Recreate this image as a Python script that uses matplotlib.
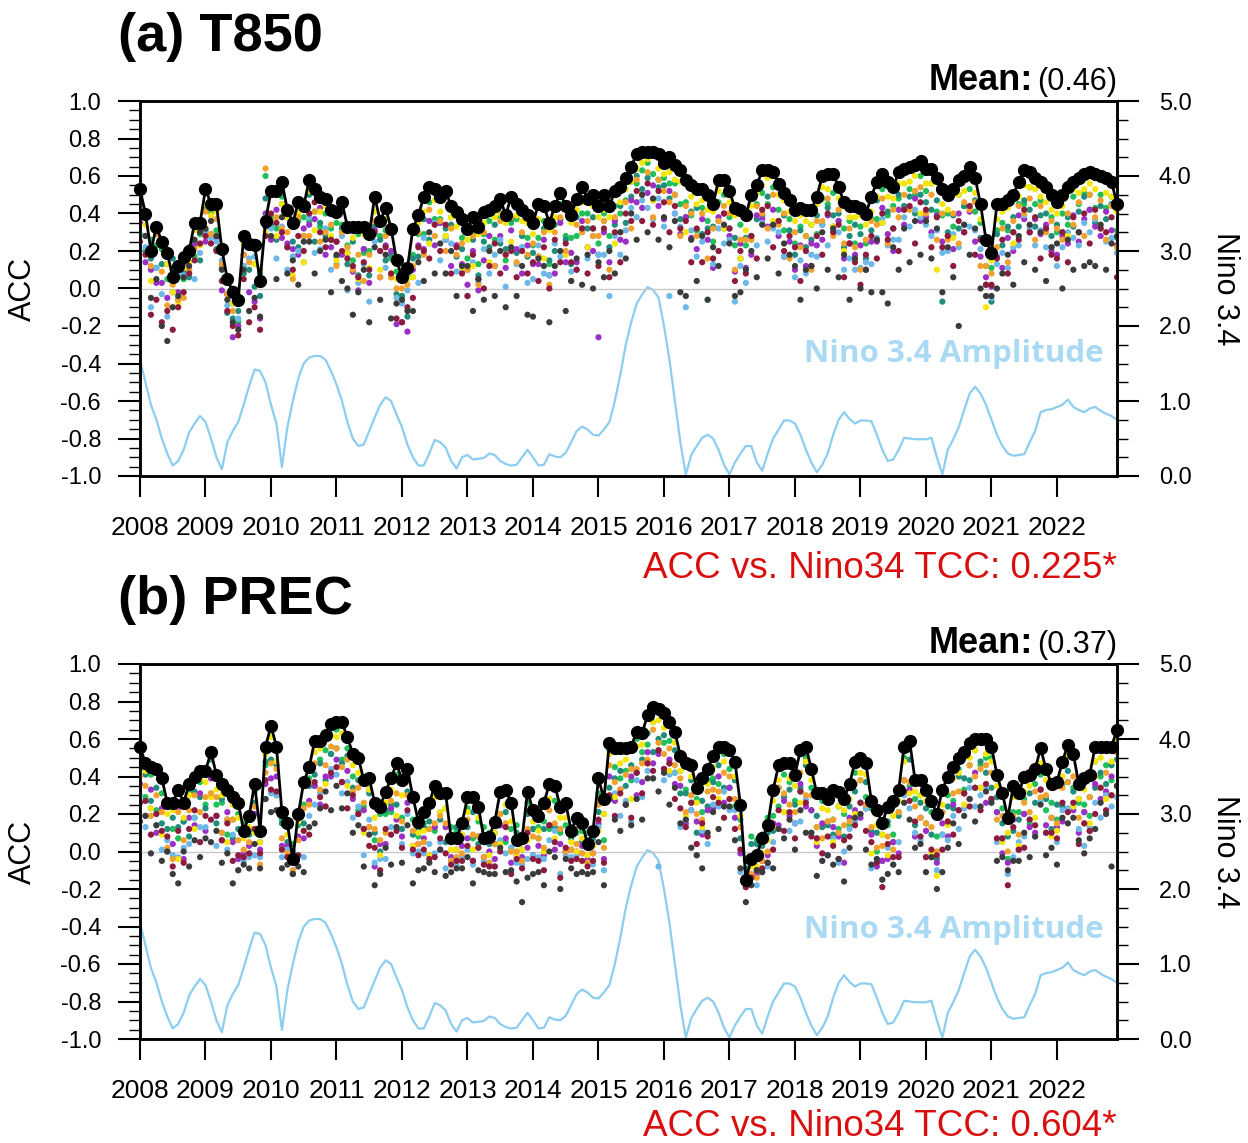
import numpy as np
import matplotlib
matplotlib.use("Agg")
import matplotlib.pyplot as plt
from matplotlib.ticker import MultipleLocator, FormatStrFormatter

plt.rcParams['font.family'] = ['Liberation Sans', 'DejaVu Sans']
plt.rcParams['axes.unicode_minus'] = False

years = list(range(2008, 2023))
# monthly axis, Jan 2008 .. Dec 2022
months = 2008 + np.arange(180) / 12.0

# ---- Nino 3.4 amplitude (right axis), one row per year ----
nino_amp = [
    1.55, 1.25, 0.95, 0.75, 0.50, 0.30, 0.14, 0.20, 0.35, 0.58, 0.70, 0.80,
    0.72, 0.50, 0.25, 0.09, 0.45, 0.60, 0.72, 0.95, 1.20, 1.42, 1.40, 1.25,
    0.95, 0.70, 0.12, 0.65, 1.00, 1.30, 1.50, 1.58, 1.60, 1.60, 1.55, 1.40,
    1.22, 1.00, 0.72, 0.50, 0.40, 0.42, 0.60, 0.78, 0.95, 1.05, 1.00, 0.82,
    0.65, 0.42, 0.25, 0.14, 0.14, 0.30, 0.48, 0.45, 0.38, 0.20, 0.10, 0.25,
    0.28, 0.22, 0.23, 0.24, 0.30, 0.28, 0.20, 0.16, 0.14, 0.15, 0.25, 0.35,
    0.25, 0.14, 0.15, 0.29, 0.26, 0.25, 0.31, 0.45, 0.60, 0.66, 0.62, 0.55,
    0.54, 0.62, 0.72, 1.00, 1.35, 1.75, 2.05, 2.30, 2.42, 2.52, 2.48, 2.38,
    2.00, 1.55, 1.00, 0.45, 0.02, 0.28, 0.40, 0.51, 0.55, 0.50, 0.35, 0.15,
    0.02, 0.18, 0.30, 0.40, 0.40, 0.18, 0.07, 0.30, 0.50, 0.62, 0.74, 0.74,
    0.70, 0.55, 0.35, 0.18, 0.05, 0.15, 0.30, 0.55, 0.75, 0.85, 0.76, 0.70,
    0.74, 0.74, 0.73, 0.55, 0.35, 0.20, 0.22, 0.35, 0.51, 0.50, 0.49, 0.49,
    0.49, 0.51, 0.25, 0.02, 0.35, 0.49, 0.65, 0.88, 1.10, 1.19, 1.10, 0.95,
    0.75, 0.55, 0.40, 0.30, 0.27, 0.28, 0.29, 0.45, 0.60, 0.85, 0.88, 0.89,
    0.92, 0.95, 1.02, 0.92, 0.88, 0.85, 0.90, 0.92, 0.87, 0.83, 0.80, 0.75,
]

# ---- (a) T850 ACC x100 : multi-model mean (black) ----
t850_mme = [
    53, 40, 20, 33, 25, 19, 6, 12, 17, 20, 35, 35,
    53, 45, 45, 21, 5, -2, -6, 28, 24, 23, 4, 36,
    52, 52, 57, 42, 35, 46, 44, 58, 53, 49, 48, 42,
    41, 46, 33, 33, 33, 33, 29, 49, 36, 43, 32, 15,
    6, 11, 32, 39, 49, 54, 53, 49, 52, 44, 41, 37,
    32, 38, 33, 41, 42, 44, 48, 39, 49, 45, 42, 39,
    35, 45, 44, 35, 44, 51, 44, 39, 48, 54, 48, 50,
    44, 50, 44, 52, 54, 59, 65, 72, 73, 73, 73, 72,
    67, 70, 66, 63, 58, 55, 53, 53, 50, 45, 58, 58,
    52, 43, 42, 39, 50, 55, 63, 63, 62, 56, 51, 47,
    42, 43, 42, 42, 49, 60, 61, 61, 54, 46, 44, 44,
    43, 40, 49, 57, 61, 57, 54, 62, 64, 65, 66, 68,
    64, 64, 59, 53, 50, 53, 58, 60, 65, 59, 45, 26,
    19, 45, 45, 47, 50, 57, 63, 62, 59, 57, 54, 50,
    46, 50, 54, 57, 59, 61, 62, 61, 60, 59, 57, 45,
]

# individual models: how far each dot sits below the black mean (ACC x100)
t850_gap_green = [
    8, 12, -6, 10, 4, 14, -4, 6, 12, -2, 18, 6,
    10, 4, 14, 2, 8, 6, 12, 16, -2, 10, -4, -24,
    14, 20, 8, 4, 18, 10, 6, 22, 12, 16, 8, 10,
    6, 12, 10, 18, 4, 14, 9, 20, 8, 12, 16, 6,
    10, 4, 14, 10, 20, 8, 16, 12, 24, 6, 18, 10,
    16, 8, 20, 12, 6, 18, 10, 24, 14, 8, 20, 12,
    12, 18, 8, 22, 10, 6, 16, 12, 20, 14, 8, 18,
    20, 10, 16, 8, 14, 12, 8, 16, 10, 6, 12, 14,
    8, 14, 10, 18, 12, 16, 22, 10, 14, 20, 12, 8,
    14, 20, 8, 16, 22, 10, 12, 18, 8, 14, 20, 10,
    18, 10, 14, 8, 20, 12, 16, 10, 18, 14, 8, 20,
    10, 16, 12, 20, 8, 18, 10, 14, 22, 12, 16, 8,
    12, 8, 18, 14, 10, 20, 8, 16, 12, 18, 10, 14,
    8, 14, 10, 16, 20, 12, 18, 8, 14, 10, 22, 12,
    16, 10, 20, 8, 14, 10, 12, 18, 10, 16, 8, 14,
]
t850_gap_teal = [
    14, 20, 4, 22, 12, 6, -10, 18, 8, 14, 10, 20,
    22, 16, 24, 10, 18, 14, 6, 20, 14, 22, 8, -12,
    18, 26, 12, 20, 10, 24, 16, 8, 28, 14, 20, 16,
    24, 14, 20, 8, 26, 12, 22, 16, 10, 28, 14, 18,
    10, 26, 16, 22, 12, 28, 18, 14, 20, 10, 24, 16,
    22, 12, 26, 16, 20, 10, 24, 18, 12, 26, 14, 22,
    16, 28, 12, 20, 24, 14, 18, 26, 10, 22, 16, 12,
    26, 14, 22, 18, 10, 24, 16, 12, 20, 14, 26, 18,
    12, 22, 16, 26, 20, 14, 10, 24, 18, 12, 22, 26,
    20, 16, 26, 12, 22, 18, 24, 14, 28, 20, 12, 16,
    24, 12, 20, 16, 10, 26, 18, 22, 14, 24, 16, 10,
    14, 24, 18, 10, 26, 16, 22, 12, 20, 16, 26, 18,
    18, 22, 12, 60, 20, 14, 26, 16, 22, 12, 18, 24,
    26, 16, 22, 14, 12, 24, 16, 20, 26, 18, 14, 22,
    12, 20, 16, 24, 18, 12, 20, 26, 16, 22, 12, 18,
]
t850_gap_purple = [
    18, 26, 10, 30, 22, 24, 8, 14, 4, 2, 12, 4,
    28, 6, 18, 22, 8, 24, 14, 10, 26, 30, 20, -4,
    26, 10, 30, 18, 14, 28, 12, 24, 16, 6, 30, 20,
    16, 28, 14, 24, 34, 12, 26, 18, 30, 20, 12, 34,
    24, 34, 22, 16, 28, 18, 30, 14, 26, 32, 18, 24,
    30, 18, 34, 26, 14, 32, 20, 28, 18, 24, 34, 16,
    22, 32, 18, 28, 36, 16, 30, 20, 34, 18, 26, 30,
    70, 20, 30, 16, 28, 34, 18, 26, 30, 22, 18, 28,
    30, 18, 26, 34, 20, 28, 32, 16, 24, 34, 20, 18,
    24, 34, 18, 28, 32, 16, 26, 30, 20, 28, 34, 22,
    32, 20, 30, 18, 26, 34, 22, 28, 18, 30, 20, 26,
    20, 30, 24, 32, 18, 28, 34, 20, 30, 22, 18, 32,
    26, 34, 20, 28, 22, 32, 18, 30, 24, 34, 28, 20,
    18, 28, 34, 20, 30, 18, 26, 32, 22, 28, 20, 30,
    28, 22, 30, 18, 34, 24, 20, 28, 32, 18, 26, 22,
]
t850_gap_skyblue = [
    24, 18, 30, 22, 28, 34, 8, 4, 10, 12, 30, 16,
    24, 18, 20, 6, 14, -2, 10, 16, 8, 6, -2, -2,
    20, 36, 24, 32, 18, 26, 30, 20, 34, 28, 16, 32,
    28, 18, 34, 22, 30, 20, 36, 24, 16, 32, 26, 20,
    14, 12, 26, 36, 22, 30, 18, 34, 26, 20, 32, 28,
    36, 24, 30, 20, 34, 26, 22, 38, 28, 32, 20, 36,
    30, 22, 36, 28, 20, 34, 26, 30, 38, 24, 32, 22,
    26, 32, 48, 24, 36, 28, 22, 34, 26, 30, 36, 24,
    34, 74, 26, 30, 68, 24, 36, 28, 56, 32, 26, 34,
    26, 50, 30, 36, 24, 32, 28, 38, 30, 26, 34, 30,
    36, 28, 34, 24, 32, 26, 38, 30, 24, 36, 28, 34,
    32, 26, 36, 30, 24, 34, 28, 36, 26, 32, 24, 30,
    30, 36, 28, 34, 30, 24, 36, 26, 32, 28, 24, 30,
    24, 32, 26, 36, 28, 34, 24, 30, 36, 26, 32, 28,
    34, 28, 24, 30, 36, 26, 32, 24, 28, 34, 30, 26,
]
t850_gap_yellow = [
    4, 6, 16, 4, 2, 6, 8, 20, 6, 6, 4, 12,
    8, 6, 4, 2, -2, 6, -2, 4, 2, 10, 2, 6,
    2, 24, 12, 4, 28, 6, 30, 6, 22, 8, 4, 14,
    26, 4, 14, 6, 28, 4, 18, 8, 26, 6, 24, 10,
    2, 6, 26, 4, 8, 30, 6, 8, 24, 6, 8, 26,
    6, 26, 4, 6, 28, 6, 8, 4, 24, 6, 6, 4,
    6, 8, 28, 4, 6, 8, 26, 4, 6, 8, 26, 6,
    6, 8, 6, 28, 8, 6, 8, 8, 6, 4, 26, 8,
    6, 8, 8, 6, 28, 6, 8, 6, 8, 4, 6, 26,
    6, 4, 26, 8, 6, 4, 8, 4, 26, 6, 4, 6,
    6, 4, 6, 8, 4, 6, 8, 28, 6, 26, 6, 6,
    4, 6, 8, 8, 26, 8, 6, 6, 8, 8, 6, 28,
    8, 8, 49, 8, 8, 26, 8, 8, 6, 8, 8, 36,
    4, 8, 4, 4, 26, 8, 8, 8, 6, 8, 8, 8,
    6, 6, 26, 4, 8, 8, 6, 8, 26, 8, 8, 4,
]
t850_gap_orange = [
    10, 2, 8, 4, 16, 28, 4, 18, 22, 10, 14, 4,
    12, 16, 8, 8, 8, 10, -1, 10, 10, -2, -6, -28,
    16, 14, 25, 12, 30, 8, 16, 30, 12, 24, 18, 8,
    29, 16, 11, 23, 15, 29, 11, 13, 30, 15, 26, 15,
    6, 9, 20, 9, 31, 12, 25, 13, 32, 12, 23, 13,
    22, 10, 31, 11, 22, 32, 12, 21, 11, 31, 12, 21,
    11, 28, 14, 33, 14, 13, 24, 35, 14, 24, 12, 22,
    16, 14, 34, 14, 24, 13, 33, 14, 23, 11, 35, 14,
    15, 24, 16, 35, 14, 15, 25, 13, 34, 13, 22, 14,
    12, 33, 16, 13, 24, 11, 23, 31, 12, 22, 11, 31,
    12, 21, 14, 32, 13, 24, 13, 33, 12, 22, 12, 22,
    33, 14, 13, 23, 13, 33, 12, 24, 14, 23, 14, 14,
    24, 14, 33, 13, 24, 13, 34, 14, 23, 13, 33, 14,
    11, 23, 13, 33, 14, 13, 23, 14, 33, 13, 24, 14,
    14, 24, 14, 23, 13, 33, 12, 23, 13, 33, 13, 23,
]
t850_gap_darkred = [
    28, 22, 34, 39, 43, 31, 28, 22, 19, 12, 20, 11,
    25, 21, 25, 17, 17, 18, 19, 23, 42, 33, 26, 8,
    12, 17, 27, 20, 25, 18, 24, 18, 7, 19, 26, 16,
    16, 26, 17, 21, 27, 19, 19, 19, 16, 21, 24, 31,
    24, 21, 37, 17, 29, 38, 19, 29, 18, 36, 19, 29,
    36, 20, 28, 41, 30, 20, 40, 21, 29, 39, 22, 31,
    21, 41, 22, 35, 18, 37, 20, 25, 38, 22, 40, 18,
    32, 18, 38, 22, 40, 19, 29, 20, 37, 17, 39, 20,
    21, 40, 22, 31, 22, 41, 21, 39, 20, 29, 38, 18,
    20, 39, 22, 31, 22, 39, 21, 19, 40, 20, 31, 19,
    20, 39, 22, 30, 21, 42, 21, 31, 20, 40, 20, 30,
    41, 22, 21, 41, 21, 31, 22, 42, 22, 21, 42, 22,
    22, 42, 21, 31, 22, 41, 22, 30, 21, 41, 19, 24,
    17, 29, 19, 39, 20, 31, 21, 32, 21, 41, 22, 32,
    30, 20, 40, 19, 29, 21, 38, 19, 28, 29, 19, 39,
]
t850_gap_gray = [
    15, 12, 25, 28, 45, 47, 16, 16, 11, 8, 9, 5,
    21, 9, 17, 11, 11, 16, 16, 18, 36, 28, 19, 3,
    24, 47, 19, 34, 20, 44, 19, 33, 45, 29, 22, 44,
    23, 42, 33, 47, 35, 23, 47, 27, 42, 25, 48, 23,
    12, 23, 44, 25, 45, 24, 45, 25, 44, 24, 45, 25,
    20, 50, 28, 47, 22, 48, 28, 49, 27, 49, 30, 53,
    50, 29, 32, 53, 32, 31, 56, 35, 32, 52, 30, 50,
    30, 44, 24, 44, 24, 43, 25, 46, 23, 43, 25, 46,
    29, 48, 30, 65, 62, 29, 49, 25, 56, 23, 46, 24,
    28, 47, 44, 29, 30, 49, 29, 47, 28, 48, 27, 29,
    30, 49, 32, 30, 49, 30, 51, 29, 48, 28, 50, 28,
    43, 30, 51, 31, 63, 65, 32, 52, 32, 51, 30, 50,
    28, 48, 27, 55, 28, 47, 78, 26, 47, 27, 45, 30,
    23, 45, 37, 29, 48, 29, 49, 28, 49, 27, 50, 28,
    22, 50, 28, 47, 29, 49, 48, 49, 26, 49, 33, 17,
]

# ---- (b) PREC ACC x100 ----
prec_mme = [
    56, 47, 45, 44, 39, 26, 26, 33, 26, 36, 40, 43,
    43, 53, 41, 36, 33, 29, 26, 11, 19, 36, 11, 56,
    67, 56, 21, 15, -4, 20, 37, 45, 59, 59, 62, 68,
    69, 69, 61, 52, 50, 38, 39, 26, 24, 32, 39, 47,
    38, 44, 29, 16, 21, 26, 35, 31, 31, 7, 7, 15,
    29, 29, 24, 7, 8, 16, 32, 33, 26, 6, 7, 32,
    22, 19, 26, 36, 35, 24, 26, 11, 18, 15, 4, 11,
    39, 28, 58, 55, 55, 55, 56, 64, 63, 73, 77, 76,
    74, 69, 64, 51, 47, 46, 34, 39, 44, 51, 56, 56,
    54, 48, 25, -15, -4, -2, 7, 14, 33, 46, 47, 47,
    41, 54, 56, 44, 31, 31, 28, 33, 32, 28, 36, 48,
    50, 47, 27, 22, 15, 24, 27, 33, 56, 59, 38, 38,
    33, 27, 20, 33, 40, 45, 50, 53, 58, 60, 60, 60,
    56, 41, 31, 18, 35, 31, 40, 41, 44, 55, 44, 36,
    37, 48, 57, 52, 36, 39, 41, 56, 56, 56, 56, 65,
]
prec_gap_green = [
    6, 18, 4, 22, 8, 2, 14, 26, 10, 4, 22, 6,
    18, 4, 16, 10, 24, 12, 6, -4, 8, 4, 2, 10,
    12, 26, 4, -2, -8, 6, 12, 6, 24, 10, 8, 16,
    4, 20, 6, 12, 28, 14, 6, 20, 4, 12, 18, 6,
    20, 4, 12, 8, 6, 14, 24, 10, 8, -6, -4, 6,
    6, 22, 8, -6, -2, 6, 12, 28, 14, -8, -2, 6,
    10, 6, 10, 24, 8, 14, 12, -2, 8, 4, -6, 2,
    8, 22, 4, 10, 16, 12, 18, 4, 10, 16, 8, 22,
    16, 10, 22, 8, 14, 20, 6, 18, 6, 12, 20, 4,
    10, 24, 8, -10, -12, -8, -2, -4, 14, 22, 6, 10,
    14, 22, 6, 10, 18, 4, 12, 16, 20, 8, 22, 6,
    12, 18, 4, 22, 6, 10, 18, 12, 6, 24, 10, 8,
    18, 6, 12, 24, 10, 18, 6, 20, 12, 6, 14, 10,
    6, 20, 8, 22, 14, 10, 12, 26, 8, 14, 22, 10,
    20, 12, 6, 18, 10, 14, 22, 8, 16, 10, 18, 12,
]
prec_gap_teal = [
    12, 6, 18, 10, 24, 14, 8, 20, 10, 28, 8, 14,
    20, 12, 26, 8, 16, 22, 14, 2, 10, 10, 6, 8,
    18, 10, 6, 10, -4, 4, 22, 10, 18, 12, 24, 16,
    14, 22, 10, 18, 12, 26, 8, 16, 24, 10, 14, 22,
    26, 12, 20, 4, 8, 10, 22, 14, 26, 2, -6, 8,
    16, 8, 20, 2, 4, 12, 18, 12, 24, -4, 6, 12,
    10, 12, 14, 8, 22, 12, 26, 4, 2, 10, -2, 4,
    18, 8, 24, 16, 12, 20, 10, 22, 14, 10, 24, 16,
    12, 22, 10, 20, 16, 8, 24, 12, 20, 14, 10, 22,
    20, 10, 18, -6, -8, -6, 4, 4, 22, 12, 18, 14,
    16, 20, 10, 22, 12, 18, 14, 24, 8, 20, 12, 16,
    24, 10, 16, 12, 20, 8, 22, 14, 18, 10, 24, 12,
    10, 18, 24, 12, 16, 22, 10, 14, 20, 26, 12, 18,
    22, 12, 16, 10, 24, 14, 20, 10, 18, 12, 16, 24,
    12, 24, 14, 20, 8, 18, 12, 22, 14, 20, 10, 16,
]
prec_gap_purple = [
    20, 28, 12, 34, 16, 26, 22, 10, 30, 18, 26, 12,
    32, 14, 22, 30, 12, 24, 30, 12, 16, 16, 10, 20,
    28, 16, 18, 12, 2, 12, 30, 18, 24, 34, 22, 28,
    20, 32, 18, 24, 30, 16, 26, 34, 20, 28, 16, 30,
    30, 18, 26, 12, 14, 28, 22, 30, 18, 10, 6, 12,
    22, 34, 16, 10, 8, 20, 18, 26, 32, 8, 10, 30,
    24, 16, 28, 22, 34, 20, 26, 10, 18, 12, 8, 12,
    24, 32, 18, 28, 22, 30, 16, 34, 26, 20, 30, 24,
    30, 20, 28, 16, 32, 24, 18, 30, 22, 28, 16, 30,
    20, 30, 26, -2, 2, 10, 12, 16, 18, 32, 20, 28,
    26, 18, 32, 22, 28, 16, 30, 20, 24, 34, 18, 26,
    32, 24, 18, 30, 20, 28, 22, 34, 18, 26, 30, 20,
    22, 30, 26, 18, 32, 20, 28, 22, 30, 18, 26, 34,
    28, 20, 32, 24, 18, 30, 20, 28, 34, 22, 30, 18,
    24, 32, 20, 30, 26, 18, 30, 20, 28, 24, 16, 30,
]
prec_gap_skyblue = [
    26, 34, 22, 30, 38, 20, 28, 36, 24, 32, 22, 30,
    30, 22, 38, 26, 32, 20, 36, 16, 22, 38, 14, 28,
    36, 26, 24, 14, 6, 22, 40, 26, 34, 28, 38, 24,
    28, 38, 24, 34, 26, 40, 22, 32, 28, 36, 26, 34,
    34, 24, 30, 16, 22, 22, 36, 26, 40, 12, 14, 18,
    28, 36, 22, 12, 14, 24, 26, 34, 24, 12, 14, 36,
    24, 22, 30, 30, 24, 36, 28, 14, 20, 16, 10, 18,
    26, 38, 30, 24, 36, 28, 40, 26, 34, 30, 38, 84,
    36, 28, 22, 38, 30, 24, 36, 28, 40, 26, 32, 24,
    32, 26, 36, 4, 10, 16, 18, 22, 28, 34, 26, 36,
    26, 38, 28, 34, 24, 36, 30, 26, 38, 28, 24, 32,
    30, 24, 36, 26, 30, 22, 34, 28, 26, 36, 28, 32,
    36, 28, 30, 24, 34, 26, 38, 30, 24, 36, 30, 26,
    28, 36, 24, 30, 38, 26, 32, 24, 36, 28, 34, 26,
    32, 26, 34, 28, 24, 36, 28, 30, 38, 26, 32, 36,
]
prec_gap_yellow = [
    8, 4, 22, 2, 30, 6, 4, 37, 8, 6, 28, 4,
    6, 24, 8, 6, 28, 4, 8, 4, 6, 26, 6, 4,
    6, 8, 20, 6, 2, 4, 26, 8, 6, 4, 26, 6,
    8, 6, 26, 6, 8, 28, 6, 8, 26, 6, 6, 28,
    8, 6, 26, 6, 10, 28, 6, 10, 8, 6, 6, 6,
    8, 28, 6, -2, 10, 6, 28, 8, 10, 8, 6, 26,
    6, 8, 26, 8, 28, 6, 8, 6, 18, 8, 6, 8,
    28, 8, 6, 26, 8, 6, 28, 8, 6, 26, 8, 6,
    8, 26, 6, 8, 28, 6, 8, 26, 8, 6, 28, 8,
    26, 8, 6, -2, 4, 6, 8, 8, 6, 8, 26, 8,
    6, 28, 8, 6, 26, 8, 6, 28, 8, 6, 8, 28,
    8, 6, 28, 8, 6, 26, 8, 6, 8, 28, 6, 8,
    6, 28, 33, 8, 26, 6, 8, 28, 8, 6, 26, 8,
    8, 6, 26, 8, 6, 28, 8, 6, 26, 8, 6, 28,
    26, 8, 6, 28, 8, 6, 26, 8, 6, 28, 8, 6,
]
prec_gap_orange = [
    16, 12, 26, 14, 18, 24, 30, 12, 20, 14, 10, 22,
    14, 22, 12, 26, 16, 12, 20, 10, 14, 12, 18, 14,
    20, 12, 14, 16, 6, 14, 14, 20, 12, 26, 16, 12,
    14, 24, 12, 20, 16, 12, 26, 14, 18, 22, 12, 16,
    22, 14, 18, 12, 16, 14, 20, 12, 16, 12, 10, 16,
    12, 20, 16, 10, 14, 12, 12, 18, 26, 6, 12, 20,
    14, 12, 24, 14, 20, 12, 26, 10, 14, 16, 10, 12,
    14, 26, 12, 18, 22, 14, 12, 20, 16, 24, 12, 18,
    22, 14, 18, 12, 26, 16, 14, 22, 12, 18, 24, 14,
    14, 20, 12, 2, 8, 12, 12, 14, 20, 12, 16, 22,
    20, 12, 26, 14, 18, 24, 12, 16, 22, 14, 20, 12,
    12, 22, 14, 20, 12, 16, 26, 12, 18, 22, 14, 20,
    18, 14, 20, 12, 24, 14, 18, 22, 12, 20, 16, 14,
    14, 24, 12, 18, 16, 22, 14, 20, 12, 26, 14, 18,
    22, 14, 20, 12, 18, 24, 12, 16, 22, 14, 26, 12,
]
prec_gap_darkred = [
    30, 20, 36, 24, 28, 18, 34, 22, 32, 24, 18, 38,
    24, 36, 22, 30, 18, 34, 28, 14, 20, 24, 12, 18,
    34, 24, 20, 18, 8, 22, 26, 36, 22, 30, 38, 26,
    24, 32, 38, 22, 30, 26, 36, 24, 34, 20, 30, 36,
    36, 22, 28, 18, 20, 30, 38, 24, 32, 14, 12, 20,
    26, 34, 22, 14, 16, 24, 32, 20, 38, 10, 16, 22,
    26, 24, 36, 22, 30, 38, 24, 16, 22, 20, 12, 16,
    22, 34, 28, 36, 24, 30, 38, 22, 32, 26, 34, 22,
    30, 22, 36, 28, 34, 20, 30, 24, 36, 22, 30, 38,
    26, 36, 24, 4, 10, 8, 16, 20, 32, 24, 36, 26,
    34, 22, 30, 36, 24, 32, 20, 30, 36, 22, 28, 34,
    24, 36, 22, 28, 34, 20, 30, 36, 24, 32, 22, 30,
    36, 26, 22, 32, 24, 36, 28, 22, 34, 26, 38, 24,
    28, 34, 24, 36, 22, 30, 38, 24, 30, 22, 34, 26,
    30, 22, 36, 26, 32, 24, 30, 36, 22, 34, 26, 30,
]
prec_gap_gray = [
    40, 28, 46, 30, 44, 26, 38, 50, 26, 44, 34, 46,
    36, 48, 30, 42, 34, 46, 36, 18, 28, 32, 20, 28,
    46, 34, 30, 22, 8, 28, 48, 32, 44, 36, 30, 46,
    34, 46, 30, 42, 36, 46, 30, 44, 36, 30, 46, 34,
    44, 30, 46, 26, 30, 32, 46, 30, 44, 18, 16, 24,
    32, 46, 34, 18, 20, 28, 30, 44, 36, 22, 34, 46,
    34, 30, 44, 36, 38, 44, 30, 20, 30, 26, 16, 22,
    34, 46, 30, 38, 44, 30, 42, 36, 46, 34, 38, 44,
    32, 44, 30, 36, 30, 44, 36, 48, 34, 30, 44, 32,
    30, 42, 34, 12, 14, 8, 18, 20, 42, 34, 40, 30,
    40, 32, 46, 34, 44, 36, 30, 40, 36, 44, 34, 30,
    30, 46, 34, 26, 30, 36, 34, 44, 30, 42, 36, 34,
    44, 30, 40, 44, 38, 30, 46, 34, 30, 44, 36, 28,
    30, 46, 34, 28, 40, 36, 30, 44, 36, 30, 46, 34,
    44, 30, 42, 34, 30, 40, 34, 44, 30, 36, 64, 30,
]

model_colors = ["#1fbf5a", "#1f8c7c", "#9b2fc6", "#6cb8e8",
                "#f5e50a", "#f2a12c", "#8d1b3d", "#3b3b3b"]

panels = [
    ("(a) T850", "(0.46)", "ACC vs. Nino34 TCC: 0.225*", t850_mme,
     [t850_gap_green, t850_gap_teal, t850_gap_purple, t850_gap_skyblue,
      t850_gap_yellow, t850_gap_orange, t850_gap_darkred, t850_gap_gray], 0.325),
    ("(b) PREC", "(0.37)", "ACC vs. Nino34 TCC: 0.604*", prec_mme,
     [prec_gap_green, prec_gap_teal, prec_gap_purple, prec_gap_skyblue,
      prec_gap_yellow, prec_gap_orange, prec_gap_darkred, prec_gap_gray], 0.29),
]

W, H = 1248, 1143
fig = plt.figure(figsize=(W / 100, H / 100), dpi=100)

# pixel boxes of the two plot frames: (left, top, right, bottom)
frames = [(140, 101, 1117, 476), (140, 664, 1117, 1039)]
tcc_base = [578, 1136]

for k, ((title, mean_txt, tcc_txt, mme, gaps, amp_y), (l, t, r, b)) in enumerate(zip(panels, frames)):
    ax = fig.add_axes([l / W, 1 - b / H, (r - l) / W, (b - t) / H])
    ax2 = ax.twinx()

    # Nino 3.4 amplitude on the right axis
    ax2.plot(months, nino_amp, color="#8ccdf0", lw=1.6)
    ax2.set_ylim(0, 5)
    ax2.yaxis.set_major_locator(MultipleLocator(1))
    ax2.yaxis.set_minor_locator(MultipleLocator(0.25))
    ax2.yaxis.set_major_formatter(FormatStrFormatter("%.1f"))
    ax2.tick_params(axis="y", which="major", direction="out", length=16, width=1.5,
                    pad=14, labelsize=17)
    ax2.tick_params(axis="y", which="minor", direction="out", length=8, width=1.0)
    ax2.set_ylabel("Nino 3.4", rotation=-90, fontsize=22)
    ax2.yaxis.set_label_coords((1240 - l) / (r - l), 0.5)

    ax.set_zorder(ax2.get_zorder() + 1)
    ax.patch.set_visible(False)

    mme = np.array(mme) / 100.0
    ax.axhline(0, color="#c8c8c8", lw=1.0, zorder=1)
    for gap, c in zip(gaps, model_colors):
        ax.scatter(months, mme - np.array(gap) / 100.0, s=20, color=c,
                   edgecolors="none", zorder=2)
    ax.plot(months, mme, "-o", color="black", lw=2.0,
            ms=8.5, zorder=5, clip_on=False)

    ax.set_xlim(months[0], months[-1])
    ax.set_ylim(-1, 1)
    ax.set_xticks(years)
    ax.set_xticklabels([str(y) for y in years])
    ax.yaxis.set_major_locator(MultipleLocator(0.2))
    ax.yaxis.set_minor_locator(MultipleLocator(0.05))
    ax.yaxis.set_major_formatter(FormatStrFormatter("%.1f"))
    ax.tick_params(axis="x", direction="out", length=15, width=1.5, pad=14,
                   labelsize=19, top=False)
    ax.tick_params(axis="y", which="major", direction="out", length=16, width=1.5,
                   pad=12, labelsize=17, right=False)
    ax.tick_params(axis="y", which="minor", direction="out", length=8, width=1.0,
                   right=False)
    ax.set_ylabel("ACC", fontsize=22)
    ax.yaxis.set_label_coords((38 - l) / (r - l), 0.5)
    for sp in list(ax.spines.values()) + list(ax2.spines.values()):
        sp.set_linewidth(1.8)

    ax.text(0.986, amp_y, "Nino 3.4 Amplitude", transform=ax.transAxes,
            ha="right", va="center", fontsize=22.5, color="#a9d9f3",
            family=["Open Sans", "DejaVu Sans"], weight="bold")

    # title and annotations above / below the frame
    fig.text((l - 22) / W, 1 - (t - 50) / H, title, fontsize=39,
             weight="bold", ha="left", va="baseline")
    mt = fig.text(r / W, 1 - (t - 11) / H, mean_txt, fontsize=22,
                  ha="right", va="baseline")
    fig.canvas.draw()
    bb = mt.get_window_extent()
    fig.text(bb.x0 / W - 0.003, 1 - (t - 11) / H, "Mean:", fontsize=26,
             weight="bold", ha="right", va="baseline")
    fig.text(r / W, 1 - tcc_base[k] / H, tcc_txt, fontsize=26.5,
             color="#d90f0f", ha="right", va="baseline")

fig.savefig("out.png", dpi=100)
